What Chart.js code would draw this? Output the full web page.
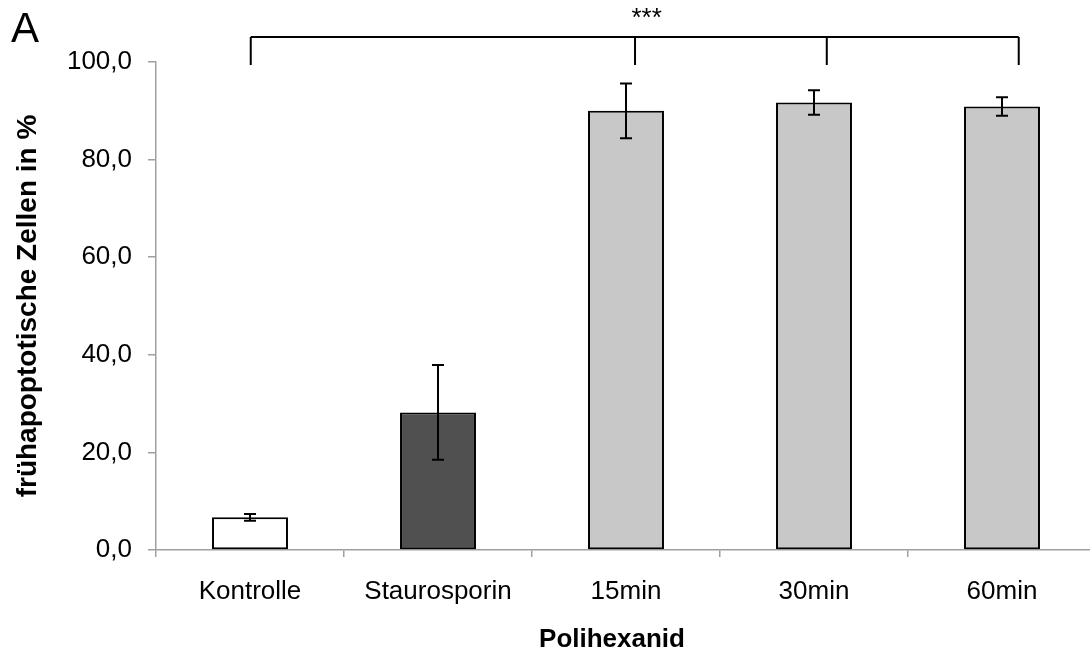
<!DOCTYPE html>
<html>
<head>
<meta charset="utf-8">
<script src="https://cdn.jsdelivr.net/npm/chart.js@4"></script>
<style>
  html, body { margin: 0; padding: 0; background: #fff; overflow: hidden; }
  canvas { display: block; }
</style>
</head>
<body>
<canvas id="c" width="1096" height="659"></canvas>
<script>
// ---- data ----
const categories = ['Kontrolle', 'Staurosporin', '15min', '30min', '60min'];
const values = [6.7, 28.2, 90.0, 91.7, 90.9];
const errors = [0.7, 9.7, 5.6, 2.5, 1.9];
const barColors = ['#ffffff', '#505050', '#c8c8c8', '#c8c8c8', '#c8c8c8'];
const yTickLabels = ['0,0', '20,0', '40,0', '60,0', '80,0', '100,0'];
const yTitle = 'frühapoptotische Zellen in %';
const xTitle = 'Polihexanid';
const significance = '***';
const panelLetter = 'A';

// bracket annotation (category index positions, value levels)
const bracket = { xs: [0.004, 2.048, 3.068, 4.089], top: 105.1, bottom: 99.4, labelX: 2.11, labelY: 107.3 };

const FONT = "'Liberation Sans', Arial, sans-serif";

const errorBarPlugin = {
  id: 'errorBars',
  afterDatasetsDraw(chart) {
    const ctx = chart.ctx;
    const xs = chart.scales.x, ys = chart.scales.y;
    const meta = chart.getDatasetMeta(0);
    ctx.save();
    ctx.strokeStyle = '#000';
    ctx.lineWidth = 2;
    meta.data.forEach((bar, i) => {
      const x = bar.x;
      const yT = ys.getPixelForValue(values[i] + errors[i]);
      const yB = ys.getPixelForValue(values[i] - errors[i]);
      const cap = 6;
      ctx.beginPath();
      ctx.moveTo(x, yT); ctx.lineTo(x, yB);
      ctx.moveTo(x - cap, yT); ctx.lineTo(x + cap, yT);
      ctx.moveTo(x - cap, yB); ctx.lineTo(x + cap, yB);
      ctx.stroke();
    });
    // significance bracket
    const yTop = ys.getPixelForValue(bracket.top);
    const yBot = ys.getPixelForValue(bracket.bottom);
    const px = bracket.xs.map(v => xs.getPixelForValue(v));
    ctx.beginPath();
    ctx.moveTo(px[0], yTop); ctx.lineTo(px[px.length - 1], yTop);
    px.forEach(p => { ctx.moveTo(p, yTop); ctx.lineTo(p, yBot); });
    ctx.stroke();
    ctx.fillStyle = '#000';
    ctx.font = '26px ' + FONT;
    ctx.textAlign = 'center';
    ctx.textBaseline = 'alphabetic';
    ctx.fillText(significance, xs.getPixelForValue(bracket.labelX), ys.getPixelForValue(bracket.labelY));
    // x-axis title
    ctx.font = 'bold 26px ' + FONT;
    ctx.fillText(xTitle, (chart.chartArea.left + chart.chartArea.right) / 2 - 14, 647);
    // panel letter
    ctx.textAlign = 'left';
    ctx.font = '42px ' + FONT;
    ctx.fillText(panelLetter, 11, 42);
    ctx.restore();
  }
};

new Chart(document.getElementById('c'), {
  type: 'bar',
  data: {
    labels: categories,
    datasets: [{
      data: values,
      backgroundColor: barColors,
      borderColor: '#000',
      borderWidth: 2,
      borderSkipped: false,
      categoryPercentage: 1,
      barPercentage: 0.404
    }]
  },
  options: {
    responsive: false,
    animation: false,
    events: [],
    layout: { padding: { top: 62, left: 0, right: 0, bottom: 0 } },
    plugins: { legend: { display: false }, tooltip: { enabled: false } },
    scales: {
      x: {
        offset: true,
        afterFit: s => { s.height = 109; },
        grid: { display: true, offset: true, drawOnChartArea: false, drawTicks: true, tickLength: 7, color: '#a0a0a0', lineWidth: 1.5 },
        border: { display: true, color: '#a0a0a0', width: 1.5 },
        ticks: { color: '#000', font: { family: FONT, size: 26 }, padding: 19, maxRotation: 0 },
        title: { display: false }
      },
      y: {
        min: 0, max: 100,
        afterFit: s => { s.width = 156; },
        afterBuildTicks: s => { s.ticks = yTickLabels.map((_, i) => ({ value: i * 20 })); },
        grid: { display: true, drawOnChartArea: false, drawTicks: true, tickLength: 8, color: '#a0a0a0', lineWidth: 1.5 },
        border: { display: true, color: '#a0a0a0', width: 1.5 },
        ticks: { color: '#000', font: { family: FONT, size: 26 }, padding: 16, callback: (v, i) => yTickLabels[i] },
        title: { display: true, text: yTitle, color: '#000', font: { family: FONT, size: 28, weight: 'bold' }, padding: { top: 11, bottom: 0 } }
      }
    }
  },
  plugins: [errorBarPlugin]
});
</script>
</body>
</html>
